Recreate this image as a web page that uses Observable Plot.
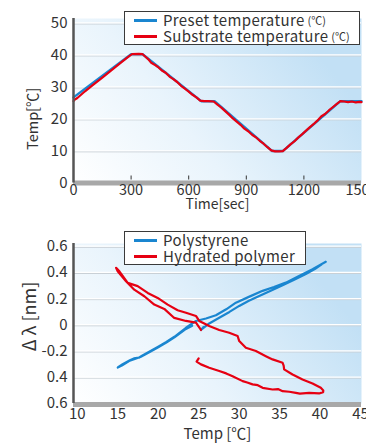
<!DOCTYPE html>
<html>
<head>
<meta charset="utf-8">
<script src="https://cdn.jsdelivr.net/npm/d3@7"></script>
<script src="https://cdn.jsdelivr.net/npm/@observablehq/plot@0.6"></script>
<style>
  html, body { margin: 0; padding: 0; background: #fff; overflow: hidden; }
  #wrap { position: relative; width: 366px; height: 444px; font-family: "Noto Sans CJK JP", "Noto Sans", sans-serif; color: #333; }
  .chart { position: absolute; left: 0; width: 366px; height: 222px; }
  .legend { position: absolute; background: #fff; border: 1.5px solid #3a3a3a; box-sizing: border-box; font-size: 15px; letter-spacing: 0.35px; line-height: 16px; padding: 0 0 0 9px; }
  .legend .row { display: flex; align-items: center; white-space: nowrap; }
  .legend .sw { display: inline-block; width: 23px; height: 3px; margin-right: 6px; }
  .legend small { font-size: 11px; letter-spacing: 0; margin-left: 3px; }
</style>
</head>
<body>
<div id="wrap"></div>
<script>
// ---------- Top chart data ----------
const presetTime = [0, 300, 360, 665, 735, 1035, 1090, 1390, 1500];
const presetTemp = [26.8, 40.3, 40.3, 25.6, 25.6, 10.0, 10.0, 25.6, 25.6];

const substrateTime = [0, 5, 20, 60, 100, 150, 200, 250, 290, 305, 340, 360, 375, 390, 405, 420, 440, 460, 480, 500, 520, 540, 560, 580, 600, 620, 640, 660, 680, 700, 730, 750, 770, 790, 810, 830, 850, 870, 890, 910, 930, 950, 970, 990, 1010, 1030, 1050, 1070, 1090, 1110, 1130, 1150, 1170, 1190, 1210, 1230, 1250, 1270, 1290, 1310, 1330, 1350, 1370, 1390, 1410, 1430, 1450, 1470, 1490, 1500];
const substrateTemp = [25.6, 26.0, 26.6, 28.7, 30.6, 33.0, 35.4, 37.8, 39.7, 40.3, 40.4, 40.3, 39.5, 38.7, 37.6, 37.1, 36.3, 35.2, 34.5, 33.3, 32.5, 31.6, 30.4, 29.5, 28.6, 27.6, 26.8, 25.8, 25.6, 25.6, 25.5, 24.5, 23.6, 22.5, 21.4, 20.2, 19.2, 18.2, 17.0, 16.2, 15.1, 14.3, 13.2, 12.3, 11.2, 10.2, 9.9, 9.9, 10.0, 11.0, 12.1, 13.0, 14.2, 15.2, 16.3, 17.4, 18.4, 19.5, 20.8, 21.6, 22.7, 23.7, 24.7, 25.6, 25.5, 25.3, 25.5, 25.2, 25.4, 25.3];

const timeTicks = [0, 300, 600, 900, 1200, 1500];
const timeInnerTicks = [300, 600, 900, 1200];
const tempTicks = [0, 10, 20, 30, 40, 50];

// ---------- Bottom chart data ----------
const polyTemp =  [25.6, 25.28, 26.3, 27.54, 28.8, 30.01, 31.2, 32.48, 33.9, 35.37, 36.8, 38.24, 39.4, 40.46, 40.71, 39.07, 37.4, 35.77, 34.3, 32.9, 31.2, 29.6, 28.4, 27.13, 25.9, 24.66, 23.43, 22.0, 21.0, 20.0, 19.0, 18.0, 17.6, 17.0, 16.5, 15.6, 15.0, 15.5, 16.4, 17.1, 17.8, 19.0, 20.0, 21.0, 22.0, 23.3, 24.2];
const polyShift = [-0.015, -0.038, 0.012, 0.056, 0.100, 0.146, 0.185, 0.222, 0.262, 0.304, 0.345, 0.389, 0.430, 0.475, 0.483, 0.427, 0.375, 0.324, 0.290, 0.261, 0.215, 0.171, 0.120, 0.074, 0.050, 0.031, -0.021, -0.090, -0.130, -0.165, -0.200, -0.235, -0.250, -0.255, -0.270, -0.300, -0.325, -0.310, -0.275, -0.260, -0.245, -0.205, -0.170, -0.135, -0.095, -0.035, -0.005];

const hydTemp =  [25.0, 24.74, 25.28, 26.3, 27.54, 28.4, 29.19, 30.43, 31.0, 31.66, 32.3, 32.9, 34.13, 34.8, 35.37, 36.2, 37.01, 37.5, 38.65, 39.88, 40.38, 40.4, 40.09, 39.07, 37.83, 36.6, 35.56, 35.5, 35.37, 34.13, 33.3, 32.07, 30.83, 30.01, 29.81, 28.77, 27.54, 26.3, 25.07, 24.66, 23.43, 22.4, 21.17, 19.93, 18.7, 17.46, 16.23, 15.2, 14.79, 14.99, 16.02, 17.04, 18.28, 19.51, 20.75, 21.98, 23.43, 24.66, 25.28];
const hydShift = [-0.255, -0.280, -0.301, -0.327, -0.352, -0.370, -0.391, -0.429, -0.440, -0.454, -0.460, -0.480, -0.493, -0.490, -0.506, -0.510, -0.519, -0.525, -0.519, -0.523, -0.513, -0.500, -0.480, -0.447, -0.416, -0.378, -0.339, -0.310, -0.289, -0.263, -0.238, -0.199, -0.174, -0.123, -0.084, -0.059, -0.038, -0.008, 0.031, 0.069, 0.094, 0.113, 0.156, 0.207, 0.245, 0.297, 0.322, 0.410, 0.437, 0.411, 0.335, 0.270, 0.220, 0.156, 0.123, 0.054, 0.031, 0.018, -0.038];

const tempCTicks = [10, 15, 20, 25, 30, 35, 40, 45];
const shiftTicks = [0.6, 0.4, 0.2, 0, -0.2, -0.4, -0.6];
const shiftTickLabels = ["0.6", "0.4", "0.2", "0", "-0.2", "0.4", "0.6"];

const BLUE = "#1a86d0";
const RED = "#e60012";
const FONT = "'Noto Sans CJK JP', 'Noto Sans', sans-serif";

const presetData = presetTime.map((t, i) => ({t, v: presetTemp[i]}));
const substrateData = substrateTime.map((t, i) => ({t, v: substrateTemp[i]}));
const polyData = polyTemp.map((x, i) => ({x, y: polyShift[i]}));
const hydData = hydTemp.map((x, i) => ({x, y: hydShift[i]}));

function addGradient(svg, id) {
  const ns = "http://www.w3.org/2000/svg";
  const defs = document.createElementNS(ns, "defs");
  defs.innerHTML = `<linearGradient id="${id}" x1="0" y1="1" x2="1" y2="0.55">
      <stop offset="0" stop-color="#ffffff"/>
      <stop offset="0.45" stop-color="#e9f4fc"/>
      <stop offset="1" stop-color="#c2e0f5"/>
    </linearGradient>`;
  svg.insertBefore(defs, svg.firstChild);
}

const wrap = document.getElementById("wrap");

// ---------- Top chart ----------
const chartTop = Plot.plot({
  width: 366, height: 222,
  marginLeft: 73, marginRight: 5, marginTop: 18, marginBottom: 39.5,
  x: {domain: [0, 1500]},
  y: {domain: [0, 51.47]},
  style: {fontFamily: FONT, fontSize: "14px", color: "#333", background: "transparent", overflow: "hidden"},
  marks: [
    Plot.frame({fill: "url(#bgTop)", stroke: "none"}),
    Plot.gridY(tempTicks.slice(1), {stroke: "#c8cfd5", strokeOpacity: 1, strokeWidth: 1, dy: 0.8}),
    Plot.gridY(tempTicks.slice(1), {stroke: "#ffffff", strokeOpacity: 1, strokeWidth: 1.2, dy: -0.3}),
    Plot.axisX({ticks: timeInnerTicks, tickSize: 4, dy: -7, tickFormat: () => "", label: null, stroke: "#333"}),
    Plot.line(presetData, {x: "t", y: "v", stroke: BLUE, strokeWidth: 2.4}),
    Plot.line(substrateData, {x: "t", y: "v", stroke: RED, strokeWidth: 2.2}),
    Plot.ruleY([0], {stroke: "#a8a8a8", strokeWidth: 5}),
    Plot.ruleX([0], {stroke: "#555", strokeWidth: 2.5}),
    Plot.axisY({ticks: tempTicks, tickSize: 0, tickPadding: 6, label: null, fontSize: 15}),
    Plot.axisX({ticks: timeTicks, tickSize: 0, tickPadding: 2, label: null, fontSize: 14.5, tickFormat: d => String(d)}),
    Plot.text(["Time[sec]"], {frameAnchor: "bottom", lineAnchor: "middle", dy: 22, fontSize: 14, fill: "#333"}),
    Plot.text(["Temp[℃]"], {frameAnchor: "left", textAnchor: "middle", lineAnchor: "middle", rotate: -90, dx: -40, dy: 18, fontSize: 14.5, fill: "#333"})
  ]
});
addGradient(chartTop, "bgTop");
chartTop.classList.add("chart");
chartTop.style.top = "0px";
wrap.appendChild(chartTop);

// ---------- Bottom chart ----------
const chartBottom = Plot.plot({
  width: 366, height: 222,
  marginLeft: 73, marginRight: 5, marginTop: 21, marginBottom: 41,
  x: {domain: [9.53, 45.12]},
  y: {domain: [-0.6, 0.623]},
  style: {fontFamily: FONT, fontSize: "14px", color: "#333", background: "transparent", overflow: "hidden"},
  marks: [
    Plot.frame({fill: "url(#bgBot)", stroke: "none"}),
    Plot.gridY(shiftTicks.slice(0, 6), {stroke: "#c8cfd5", strokeOpacity: 1, strokeWidth: 1, dy: 0.8}),
    Plot.gridY(shiftTicks.slice(0, 6), {stroke: "#ffffff", strokeOpacity: 1, strokeWidth: 1.2, dy: -0.3}),
    Plot.line(polyData, {x: "x", y: "y", stroke: BLUE, strokeWidth: 2.2}),
    Plot.line(hydData, {x: "x", y: "y", stroke: RED, strokeWidth: 2.2}),
    Plot.ruleY([-0.6], {stroke: "#a8a8a8", strokeWidth: 5, dy: 1}),
    Plot.ruleX([9.53], {stroke: "#555", strokeWidth: 2.5}),
    Plot.axisY({ticks: shiftTicks, tickSize: 0, tickPadding: 6, label: null, fontSize: 15,
      tickFormat: d => shiftTickLabels[shiftTicks.indexOf(d)]}),
    Plot.axisX({ticks: tempCTicks, tickSize: 0, tickPadding: 5, label: null, fontSize: 15}),
    Plot.text(["Temp [℃]"], {frameAnchor: "bottom", lineAnchor: "middle", dy: 31, fontSize: 15, fill: "#333"}),
    Plot.text(["Δ λ [nm]"], {frameAnchor: "left", textAnchor: "middle", lineAnchor: "middle", rotate: -90, dx: -43, dy: -7, fontSize: 18, fill: "#333"})
  ]
});
addGradient(chartBottom, "bgBot");
chartBottom.classList.add("chart");
chartBottom.style.top = "222px";
wrap.appendChild(chartBottom);

// ---------- Legends (HTML overlays) ----------
function legend(items, box) {
  const div = document.createElement("div");
  div.className = "legend";
  Object.assign(div.style, box);
  for (const it of items) {
    const row = document.createElement("div");
    row.className = "row";
    row.innerHTML = `<span class="sw" style="background:${it.color}"></span><span>${it.label}</span>${it.unit ? `<small>${it.unit}</small>` : ""}`;
    div.appendChild(row);
  }
  wrap.appendChild(div);
}
legend([
  {label: "Preset temperature", unit: "(℃)", color: BLUE},
  {label: "Substrate temperature", unit: "(℃)", color: RED}
], {left: "124px", top: "11px", width: "236px", height: "34px"});
legend([
  {label: "Polystyrene", color: BLUE},
  {label: "Hydrated polymer", color: RED}
], {left: "124px", top: "231px", width: "182px", height: "34px"});
</script>
</body>
</html>
